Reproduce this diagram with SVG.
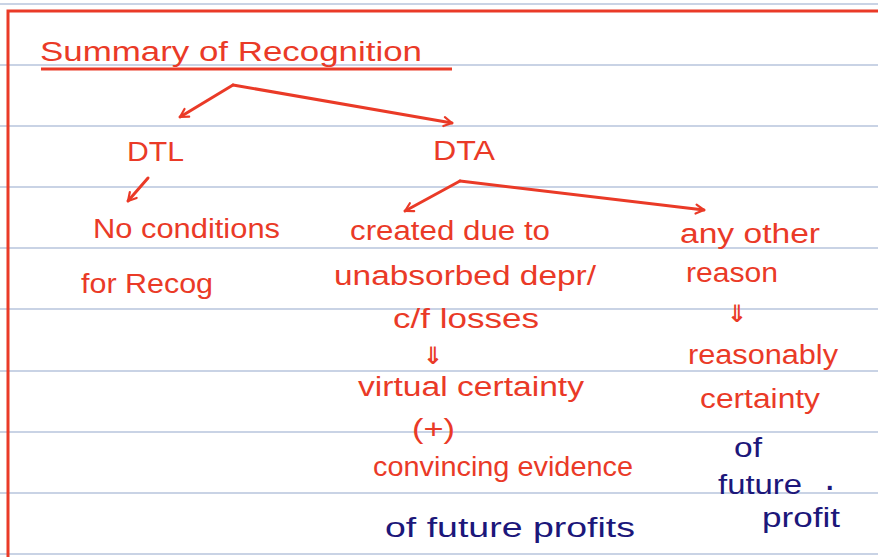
<svg xmlns="http://www.w3.org/2000/svg" width="878" height="557" viewBox="0 0 878 557">
<style>
.rule{stroke:#b7c5dc;stroke-width:1.5}
.t{font-family:"Liberation Sans","DejaVu Sans",sans-serif;fill:#ea3a27;font-size:27px}
.n{fill:#1c177a}
.dn{font-family:"DejaVu Sans",sans-serif;font-size:24px;font-weight:bold}
.c{fill:none;stroke:#ea3a27;stroke-width:3;stroke-linecap:round;stroke-linejoin:round}
</style>
<defs>
<marker id="ah" viewBox="0 0 12 12" refX="10" refY="6" markerWidth="4" markerHeight="4" orient="auto">
<path d="M2,1.5 L10,6 L2,10.5" fill="none" stroke="#ea3a27" stroke-width="2.2" stroke-linecap="round" stroke-linejoin="round"/>
</marker>
</defs>
<rect width="878" height="557" fill="#fff"/>
<g id="paper">
<line class="rule" x1="0" y1="4" x2="878" y2="4"/>
<line class="rule" x1="0" y1="65" x2="878" y2="65"/>
<line class="rule" x1="0" y1="126" x2="878" y2="126"/>
<line class="rule" x1="0" y1="187" x2="878" y2="187"/>
<line class="rule" x1="0" y1="248" x2="878" y2="248"/>
<line class="rule" x1="0" y1="309" x2="878" y2="309"/>
<line class="rule" x1="0" y1="371" x2="878" y2="371"/>
<line class="rule" x1="0" y1="432" x2="878" y2="432"/>
<line class="rule" x1="0" y1="493" x2="878" y2="493"/>
<line class="rule" x1="0" y1="554" x2="878" y2="554"/>
<path d="M8,557 L8,11 L878,11" fill="none" stroke="#ea3a27" stroke-width="3"/>
</g>
<g id="title">
<text class="t" x="40" y="61" font-size="32" textLength="382" lengthAdjust="spacingAndGlyphs">Summary of Recognition</text>
<line x1="41" y1="69" x2="452" y2="69" stroke="#ea3a27" stroke-width="3"/>
</g>
<g id="connectors">
<path class="c" d="M233,85 L180,117" marker-end="url(#ah)"/>
<path class="c" d="M233,85 L452,123" marker-end="url(#ah)"/>
<path class="c" d="M148,178 L128,201" marker-end="url(#ah)"/>
<path class="c" d="M460,181 L405,211" marker-end="url(#ah)"/>
<path class="c" d="M460,181 L704,210" marker-end="url(#ah)"/>
</g>
<g id="dtl"><text class="t" x="127" y="161" textLength="57" lengthAdjust="spacingAndGlyphs">DTL</text></g>
<g id="dta"><text class="t" x="433" y="160" textLength="62" lengthAdjust="spacingAndGlyphs">DTA</text></g>
<g id="no-condition">
<text class="t" x="93" y="238" textLength="187" lengthAdjust="spacingAndGlyphs">No conditions</text>
<text class="t" x="81" y="293" textLength="132" lengthAdjust="spacingAndGlyphs">for Recog</text>
</g>
<g id="unabsorbed">
<text class="t" x="350" y="240" textLength="200" lengthAdjust="spacingAndGlyphs">created due to</text>
<text class="t" x="334" y="285" textLength="262" lengthAdjust="spacingAndGlyphs">unabsorbed depr/</text>
<text class="t" x="393" y="328" textLength="146" lengthAdjust="spacingAndGlyphs">c/f losses</text>
<text class="t dn" x="423" y="364">⇓</text>
<text class="t" x="358" y="396" textLength="226" lengthAdjust="spacingAndGlyphs">virtual certainty</text>
<text class="t" x="412" y="438" textLength="43" lengthAdjust="spacingAndGlyphs">(+)</text>
<text class="t" x="373" y="476" textLength="260" lengthAdjust="spacingAndGlyphs">convincing evidence</text>
<text class="t n" x="385" y="537" textLength="250" lengthAdjust="spacingAndGlyphs">of future profits</text>
</g>
<g id="other-reason">
<text class="t" x="680" y="243" textLength="140" lengthAdjust="spacingAndGlyphs">any other</text>
<text class="t" x="686" y="282" textLength="92" lengthAdjust="spacingAndGlyphs">reason</text>
<text class="t dn" x="727" y="322">⇓</text>
<text class="t" x="688" y="364" textLength="150" lengthAdjust="spacingAndGlyphs">reasonably</text>
<text class="t" x="700" y="408" textLength="120" lengthAdjust="spacingAndGlyphs">certainty</text>
<text class="t n" x="734" y="457" textLength="28" lengthAdjust="spacingAndGlyphs">of</text>
<text class="t n" x="718" y="494" textLength="84" lengthAdjust="spacingAndGlyphs">future</text>
<text class="t n" x="826" y="490" font-weight="bold">.</text>
<text class="t n" x="762" y="527" textLength="78" lengthAdjust="spacingAndGlyphs">profit</text>
</g>
</svg>
